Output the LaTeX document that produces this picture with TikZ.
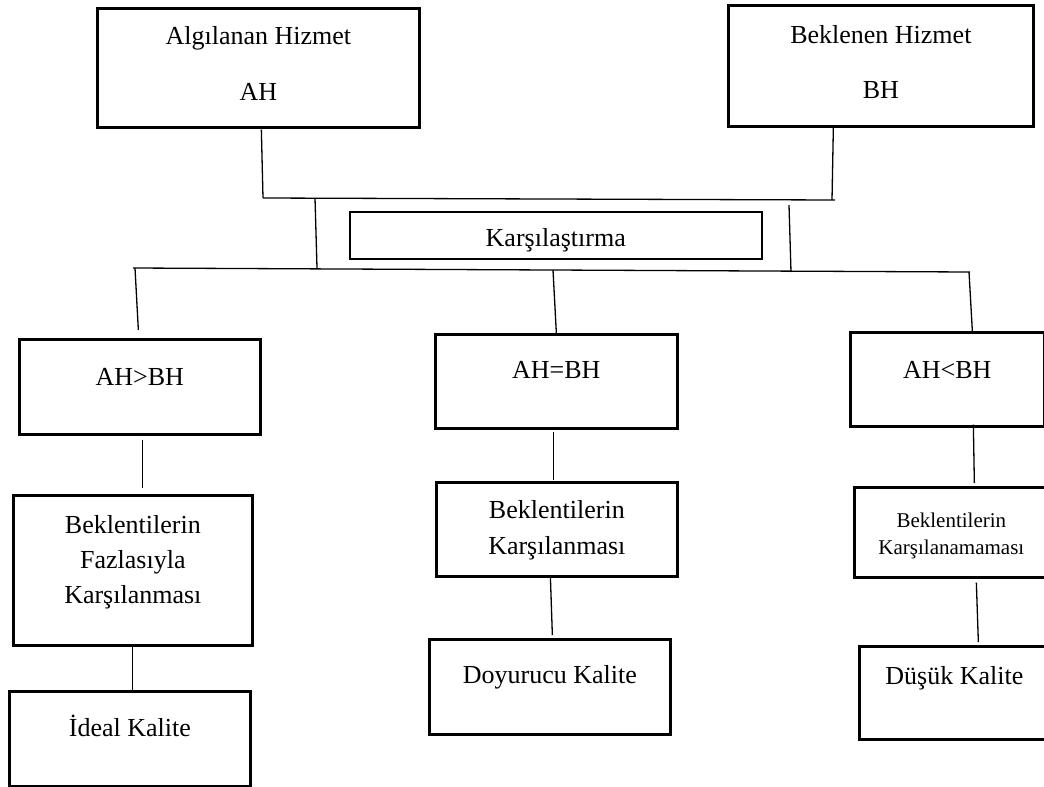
\documentclass[tikz,border=0pt]{standalone}
\usepackage{fontspec}
\setmainfont{Liberation Serif}
\usetikzlibrary{calc}
% stacked lines, baseline on the first row
\newcommand{\rows}[1]{\begin{tabular}[t]{@{}c@{}}#1\end{tabular}}
\tikzset{
  box/.style={draw, line width=2.7pt, inner sep=0pt, anchor=north west,
              font=\fontsize{26}{35}\selectfont},
  thinbox/.style={box, line width=1.5pt},
  smalltext/.style={font=\fontsize{21}{27}\selectfont},
  link/.style={line width=1.3pt},
}
\begin{document}
\begin{tikzpicture}[x=1pt, y=-1pt]
\useasboundingbox (0,0) rectangle (1044,787);

% top row
\node[box, minimum width=322pt, text height=36pt, text depth=83pt] (ah) at (96,7)
  {\rows{Algılanan Hizmet\\[21pt]AH}};
\node[box, minimum width=305pt, text height=38pt, text depth=83pt] (bh) at (727,4)
  {\rows{Beklenen Hizmet\\[20pt]BH}};

% comparison
\node[thinbox, minimum width=412pt, text height=35pt, text depth=12pt] (cmp) at (349,211)
  {Karşılaştırma};

% outcomes
\node[box, minimum width=241pt, text height=46pt, text depth=49pt] (gt) at (18,338) {AH>BH};
\node[box, minimum width=242pt, text height=44pt, text depth=50pt] (eq) at (434,333) {AH=BH};
\node[box, minimum width=194pt, text height=46pt, text depth=48pt] (lt) at (849,331) {AH<BH};

% meanings
\node[box, minimum width=239pt, text height=38pt, text depth=112pt] (fz) at (12,494)
  {\rows{Beklentilerin\\Fazlasıyla\\Karşılanması}};
\node[box, minimum width=241pt, text height=36pt, text depth=58pt] (kr) at (435,481)
  {\rows{Beklentilerin\\[1pt]Karşılanması}};
\node[box, smalltext, minimum width=194pt, text height=40pt, text depth=50pt] (kn) at (853,486)
  {\rows{Beklentilerin\\Karşılanamaması}};

% quality levels
\node[box, minimum width=241pt, text height=45pt, text depth=50pt] (il) at (8,690) {İdeal Kalite};
\node[box, minimum width=241pt, text height=44pt, text depth=51pt] (dy) at (428,638) {Doyurucu Kalite};
\node[box, minimum width=190pt, text height=38pt, text depth=55pt] (dk) at (858,645) {Düşük Kalite};

% junction points of the bracket
\coordinate (tL) at (263,198);
\coordinate (tB) at (832,200);
\coordinate (tR) at (835,200);
\coordinate (bLt) at (315,198);
\coordinate (bLb) at (317,268);
\coordinate (bRt) at (789,205);
\coordinate (bRb) at (791,272);
\coordinate (hL) at (133,268);
\coordinate (hR) at (970,272);
\coordinate (d1) at (135,268);
\coordinate (d2) at (553,270);
\coordinate (d3) at (969,272);

% inputs into the bracket
\draw[link] ([shift={(3,1)}]ah.south) -- (tL);
\draw[link] ([shift={(-47.5,0)}]bh.south) -- (tB);
\draw[link] (tL) -- (tR);
\draw[link] (bLt) -- (bLb);
\draw[link] (bRt) -- (bRb);
\draw[link] (hL) -- (hR);

% drops to the outcomes
\draw[link] (d1) -- ([shift={(-1.5,-8)}]gt.north);
\draw[link] (d2) -- (eq.north);
\draw[link] (d3) -- ([shift={(25,0)}]lt.north);

% vertical chains
\draw[link] ([shift={(2.5,4)}]gt.south) -- ([shift={(9.5,-6)}]fz.north);
\draw[link] ([shift={(-0.5,0)}]fz.south) -- ([shift={(2.5,0)}]il.north);
\draw[link] ([shift={(-3,2)}]eq.south) -- ([shift={(-3.5,-1)}]kr.north);
\draw[link] ([shift={(-6.5,-2)}]kr.south) -- ([shift={(2.5,-3)}]dy.north);
\draw[link] ([shift={(26,-3)}]lt.south) -- ([shift={(23,-3)}]kn.north);
\draw[link] ([shift={(25,4)}]kn.south) -- ([shift={(24,-3)}]dk.north);
\end{tikzpicture}
\end{document}
